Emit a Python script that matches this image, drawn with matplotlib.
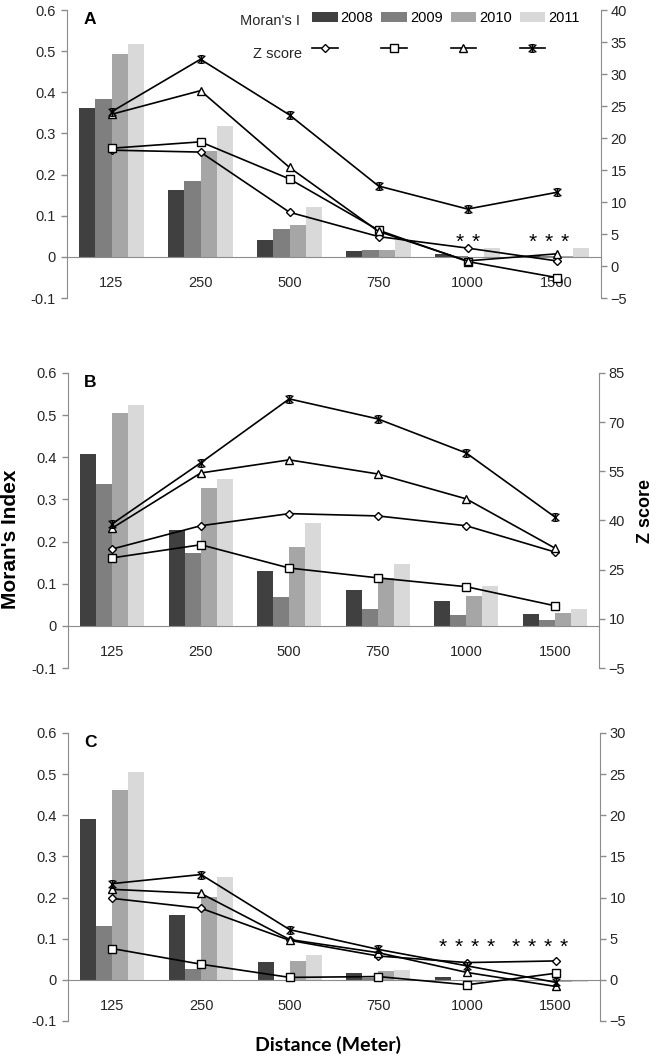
"""
Moran's I and Z score by distance band, three panels (A, B, C).

Bars show Moran's I per year on the left axis, lines show the Z score
per year on the right axis.
"""

import matplotlib
matplotlib.use("Agg")
import matplotlib.pyplot as plt
from matplotlib.path import Path
from matplotlib.ticker import FuncFormatter

plt.rcParams['font.family'] = ['Liberation Sans', 'DejaVu Sans']

# Data
distances = ['125', '250', '500', '750', '1000', '1500']
years = ['2008', '2009', '2010', '2011']

# Moran's I, one row per year
moran_A = [
    [0.362, 0.162, 0.040, 0.014, 0.006, 0.002],
    [0.383, 0.185, 0.068, 0.016, 0.003, 0.001],
    [0.492, 0.258, 0.077, 0.016, -0.001, 0.001],
    [0.517, 0.318, 0.122, 0.042, 0.022, 0.022],
]
moran_B = [
    [0.408, 0.227, 0.131, 0.084, 0.058, 0.029],
    [0.336, 0.173, 0.069, 0.040, 0.026, 0.013],
    [0.505, 0.327, 0.187, 0.113, 0.071, 0.030],
    [0.524, 0.348, 0.245, 0.146, 0.094, 0.041],
]
moran_C = [
    [0.392, 0.158, 0.043, 0.016, 0.006, -0.002],
    [0.130, 0.026, -0.002, 0.004, -0.003, -0.001],
    [0.461, 0.202, 0.047, 0.021, -0.004, -0.004],
    [0.505, 0.251, 0.061, 0.024, -0.002, -0.004],
]

# Z scores, one row per year
zscore_A = [
    [18.1, 17.8, 8.4, 4.6, 2.8, 0.8],
    [18.4, 19.4, 13.6, 5.6, 0.7, -1.8],
    [23.7, 27.4, 15.4, 5.4, 0.8, 1.9],
    [24.1, 32.3, 23.6, 12.5, 8.9, 11.5],
]
zscore_B = [
    [31.3, 38.4, 42.1, 41.4, 38.4, 30.4],
    [28.6, 32.6, 25.5, 22.5, 19.8, 14.0],
    [37.7, 54.5, 58.5, 54.2, 46.6, 31.6],
    [39.0, 57.6, 77.1, 71.0, 60.6, 41.1],
]
zscore_C = [
    [9.9, 8.7, 4.8, 2.9, 2.1, 2.3],
    [3.8, 1.9, 0.3, 0.4, -0.6, 0.8],
    [11.0, 10.5, 4.9, 3.3, 0.9, -0.8],
    [11.7, 12.8, 6.1, 3.7, 1.7, -0.3],
]

# Non-significant marks: (distance index, bar slot), and their height
stars_A = [(4, 1), (4, 2), (5, 0), (5, 1), (5, 2)]
stars_A_height = 0.036
stars_C = [(4, 0), (4, 1), (4, 2), (4, 3), (5, -1), (5, 0), (5, 1), (5, 2)]
stars_C_height = 0.079

# Excel-style star marker: an X with a vertical bar and short caps
STAR = Path(
    [(-1, -1), (1, 1), (-1, 1), (1, -1), (0, -1), (0, 1),
     (-0.6, 1), (0.6, 1), (-0.6, -1), (0.6, -1)],
    [Path.MOVETO, Path.LINETO] * 5,
)

# Styling
BAR_COLORS = ['#404040', '#7f7f7f', '#a6a6a6', '#d9d9d9']
MARKERS = [
    dict(marker='D', markersize=4.3),
    dict(marker='s', markersize=5.5),
    dict(marker='^', markersize=6),
    dict(marker=STAR, markersize=5.5),
]
AXIS_GRAY = '#8c8c8c'
TEXT_COLOR = '#262626'
BAR_WIDTH = 0.18
FIG_W, FIG_H = 656, 1058


def px_rect(left, right, top, bottom):
    """Axes rectangle in figure fractions from pixel edges."""
    return [left / FIG_W, 1 - bottom / FIG_H, (right - left) / FIG_W, (bottom - top) / FIG_H]


def draw_panel(fig, rect, moran, zscore, z_lim, z_step, letter,
               stars=None, stars_height=None, legend=False):
    ax = fig.add_axes(rect)
    x = list(range(len(distances)))

    bar_handles = []
    for i, values in enumerate(moran):
        offset = (i - 1.5) * BAR_WIDTH
        bars = ax.bar([p + offset for p in x], values, width=BAR_WIDTH,
                      color=BAR_COLORS[i], linewidth=0, zorder=2)
        bar_handles.append(bars)

    ax.set_xlim(-0.5, len(distances) - 0.5)
    ax.set_ylim(-0.1, 0.6)
    ax.set_yticks([-0.1, 0, 0.1, 0.2, 0.3, 0.4, 0.5, 0.6])
    ax.yaxis.set_major_formatter(FuncFormatter(lambda v, _: f"{v:g}"))
    ax.set_xticks(x)
    ax.set_xticklabels(distances)

    for side in ['top', 'right']:
        ax.spines[side].set_visible(False)
    ax.spines['bottom'].set_position(('data', 0))
    ax.spines['bottom'].set_color(AXIS_GRAY)
    ax.spines['left'].set_color(AXIS_GRAY)
    ax.tick_params(axis='x', length=0, pad=13.5, labelsize=10.5, colors=TEXT_COLOR)
    ax.tick_params(axis='y', length=4, width=1, color=AXIS_GRAY, pad=4,
                   labelsize=10.5, labelcolor=TEXT_COLOR)

    ax.text(0.042, 0.968, letter, transform=ax.transAxes, ha='center', va='center',
            fontsize=12.5, fontweight='bold', color='black')

    if stars:
        for d, slot in stars:
            ax.text(d + (slot - 1.5) * BAR_WIDTH, stars_height, '*', ha='center',
                    va='center', fontsize=15, color='black')

    # Z score on the secondary axis
    ax2 = ax.twinx()
    line_handles = []
    for i, values in enumerate(zscore):
        line, = ax2.plot(x, values, color='black', linewidth=1.2,
                         markerfacecolor='white', markeredgecolor='black',
                         markeredgewidth=1.0, zorder=3, **MARKERS[i])
        line_handles.append(line)
    ax2.set_ylim(*z_lim)
    ticks = []
    t = z_lim[0]
    while t <= z_lim[1] + 1e-9:
        ticks.append(t)
        t += z_step
    ax2.set_yticks(ticks)
    for side in ['top', 'left', 'bottom']:
        ax2.spines[side].set_visible(False)
    ax2.spines['right'].set_color(AXIS_GRAY)
    ax2.tick_params(axis='y', length=4, width=1, color=AXIS_GRAY, pad=3,
                    labelsize=10.5, labelcolor=TEXT_COLOR)

    if legend:
        handles, labels = [], []
        for i, year in enumerate(years):
            handles += [bar_handles[i], line_handles[i]]
            labels += [year, '']
        ax2.legend(handles, labels, ncol=4, loc='upper left',
                   bbox_to_anchor=(0.459, 0.996), frameon=False, fontsize=10.5,
                   handlelength=1.75, handletextpad=0.2, columnspacing=0.55,
                   labelspacing=1.15, borderpad=0, borderaxespad=0)
        ax2.text(0.436, 0.963, "Moran's I", transform=ax2.transAxes, ha='right',
                 va='center', fontsize=10.5, color=TEXT_COLOR)
        ax2.text(0.44, 0.846, "Z score", transform=ax2.transAxes, ha='right',
                 va='center', fontsize=10.5, color=TEXT_COLOR)
    return ax, ax2


fig = plt.figure(figsize=(FIG_W / 100, FIG_H / 100), dpi=100)

draw_panel(fig, px_rect(67, 601, 10, 298), moran_A, zscore_A, (-5, 40), 5, 'A',
           stars=stars_A, stars_height=stars_A_height, legend=True)
draw_panel(fig, px_rect(68, 599, 373, 668), moran_B, zscore_B, (-5, 85), 15, 'B')
draw_panel(fig, px_rect(68, 600, 733, 1021), moran_C, zscore_C, (-5, 30), 5, 'C',
           stars=stars_C, stars_height=stars_C_height)

fig.text(11 / FIG_W, 1 - 539 / FIG_H, "Moran's Index", rotation=90, ha='center',
         va='center', fontsize=15, fontweight='bold', color='black')
fig.text(645 / FIG_W, 1 - 511 / FIG_H, "Z score", rotation=90, ha='center',
         va='center', fontsize=13, fontweight='bold', color='black')
fig.text(328 / FIG_W, 1 - 1045 / FIG_H, "Distance (Meter)", ha='center', va='center',
         fontsize=14, fontweight='bold', color='black', family=['Lato', 'DejaVu Sans'])

fig.savefig('out.png', dpi=100)
plt.close(fig)
